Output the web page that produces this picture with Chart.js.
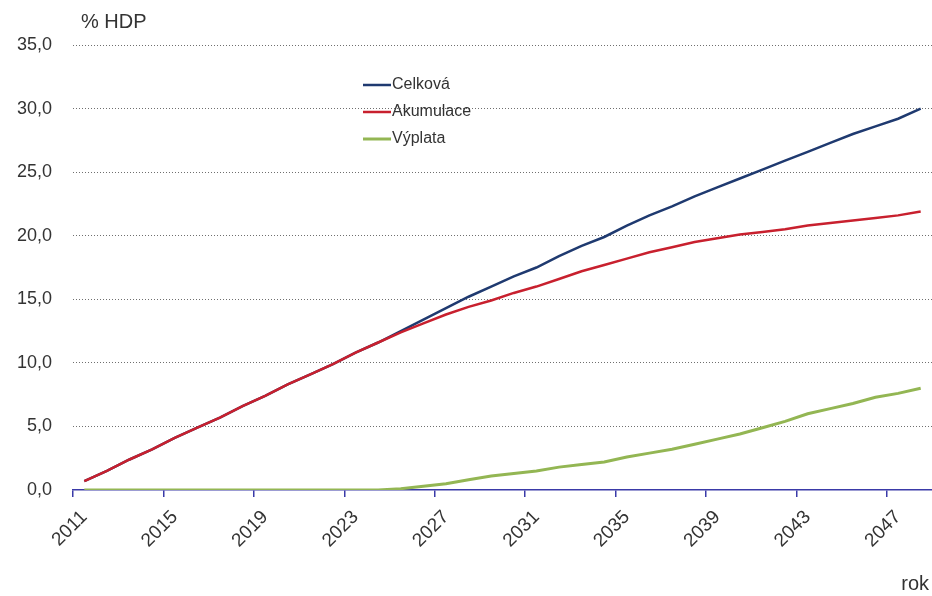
<!DOCTYPE html>
<html>
<head>
<meta charset="utf-8">
<script src="https://cdn.jsdelivr.net/npm/chart.js@4/dist/chart.umd.min.js"></script>
<style>
	body { margin: 0; background: #fff; }
	#wrap { position: relative; width: 932px; height: 596px; }
</style>
</head>
<body>
<div id="wrap"><canvas id="myChartHdp"></canvas></div>
<script>
var roky = [];
for (var r = 2011; r <= 2048; r++) {
	roky.push(String(r));
}

var celkova = [
	0.7, 1.5, 2.4, 3.2, 4.1, 4.9, 5.7, 6.6, 7.4, 8.3,
	9.1, 9.9, 10.8, 11.6, 12.5, 13.4, 14.3, 15.2, 16.0, 16.8,
	17.5, 18.4, 19.2, 19.9, 20.8, 21.6, 22.3, 23.1, 23.8, 24.5,
	25.2, 25.9, 26.6, 27.3, 28.0, 28.6, 29.2, 30.0
];

var akumulace = [
	0.7, 1.5, 2.4, 3.2, 4.1, 4.9, 5.7, 6.6, 7.4, 8.3,
	9.1, 9.9, 10.8, 11.6, 12.4, 13.1, 13.8, 14.4, 14.9, 15.5,
	16.0, 16.6, 17.2, 17.7, 18.2, 18.7, 19.1, 19.5, 19.8, 20.1,
	20.3, 20.5, 20.8, 21.0, 21.2, 21.4, 21.6, 21.9
];

var vyplata = [
	0.0, 0.0, 0.0, 0.0, 0.0, 0.0, 0.0, 0.0, 0.0, 0.0,
	0.0, 0.0, 0.0, 0.0, 0.1, 0.3, 0.5, 0.8, 1.1, 1.3,
	1.5, 1.8, 2.0, 2.2, 2.6, 2.9, 3.2, 3.6, 4.0, 4.4,
	4.9, 5.4, 6.0, 6.4, 6.8, 7.3, 7.6, 8.0
];

var yTicks = [0, 5, 10, 15, 20, 25, 30, 35];

var FONT = "'Liberation Sans', Arial, sans-serif";
var TEXT = '#333333';
var AXIS = '#3a3aa8';

var myChartHdp = null;

var hdp = {
	startUp: function () {
		hdp.chartHdp();
	}, // end - startUp

	// legenda uvnitr grafu + popisky os
	popisky: {
		id: 'popisky',
		afterDraw: function (chart) {
			var ctx = chart.ctx;
			var sets = chart.data.datasets;
			ctx.save();
			ctx.font = '16px ' + FONT;
			ctx.textBaseline = 'middle';
			ctx.textAlign = 'left';
			for (var i = 0; i < sets.length; i++) {
				var y = 85 + i * 27;
				ctx.strokeStyle = sets[i].borderColor;
				ctx.lineWidth = sets[i].borderWidth;
				ctx.beginPath();
				ctx.moveTo(363, y);
				ctx.lineTo(391, y);
				ctx.stroke();
				ctx.fillStyle = TEXT;
				ctx.fillText(sets[i].label, 392, y);
			}
			ctx.font = '20px ' + FONT;
			ctx.fillText('% HDP', 81, 22);
			ctx.textAlign = 'right';
			ctx.fillText('rok', 929, 584);
			ctx.restore();
		}
	}, // end - popisky

	chartHdp: function () {
		if (myChartHdp) {
			myChartHdp.destroy();
		}

		myChartHdp = new Chart('myChartHdp', {
			type: 'line',
			data: {
				labels: roky,
				datasets: [{
					label: 'Celková',
					data: celkova,
					borderColor: '#1f3a70',
					borderWidth: 2.5,
					order: 2
				}, {
					label: 'Akumulace',
					data: akumulace,
					borderColor: '#c8202e',
					borderWidth: 2.5,
					order: 1
				}, {
					label: 'Výplata',
					data: vyplata,
					borderColor: '#93b653',
					borderWidth: 3,
					order: 0
				}]
			},
			options: {
				responsive: true,
				maintainAspectRatio: false,
				animation: false,
				layout: { padding: { top: 45, left: 0, right: 0, bottom: 0 } },
				elements: {
					point: { radius: 0 },
					line: { tension: 0 }
				},
				plugins: {
					legend: { display: false },
					tooltip: { enabled: false }
				},
				scales: {
					x: {
						offset: true,
						afterFit: function (scale) {
							scale.height = 106;
							scale.paddingLeft = 0;
							scale.paddingRight = 0;
						},
						grid: {
							offset: true,
							drawOnChartArea: false,
							tickLength: 7,
							lineWidth: 1.5,
							color: function (c) {
								return (c.index % 4 === 0) ? AXIS : 'transparent';
							}
						},
						border: { display: true, color: AXIS, width: 1.5 },
						ticks: {
							autoSkip: false,
							minRotation: 45,
							maxRotation: 45,
							padding: 9,
							color: TEXT,
							font: { family: FONT, size: 19 },
							callback: function (v, i) {
								return (i % 4 === 0) ? roky[i] : '';
							}
						}
					},
					y: {
						min: yTicks[0],
						max: yTicks[yTicks.length - 1],
						afterFit: function (scale) { scale.width = 73; },
						afterBuildTicks: function (scale) {
							scale.ticks = yTicks.map(function (v) { return { value: v }; });
						},
						grid: {
							drawTicks: false,
							lineWidth: 1,
							color: function (c) {
								return (c.tick && c.tick.value === 0) ? 'transparent' : '#6f6f6f';
							}
						},
						border: { display: false, dash: [1, 2] },
						ticks: {
							padding: 21,
							color: TEXT,
							font: { family: FONT, size: 18 },
							callback: function (v) {
								return v.toFixed(1).replace('.', ',');
							}
						}
					}
				}
			},
			plugins: [hdp.popisky]
		});
	} // end - chartHdp
};

hdp.startUp();
</script>
</body>
</html>
